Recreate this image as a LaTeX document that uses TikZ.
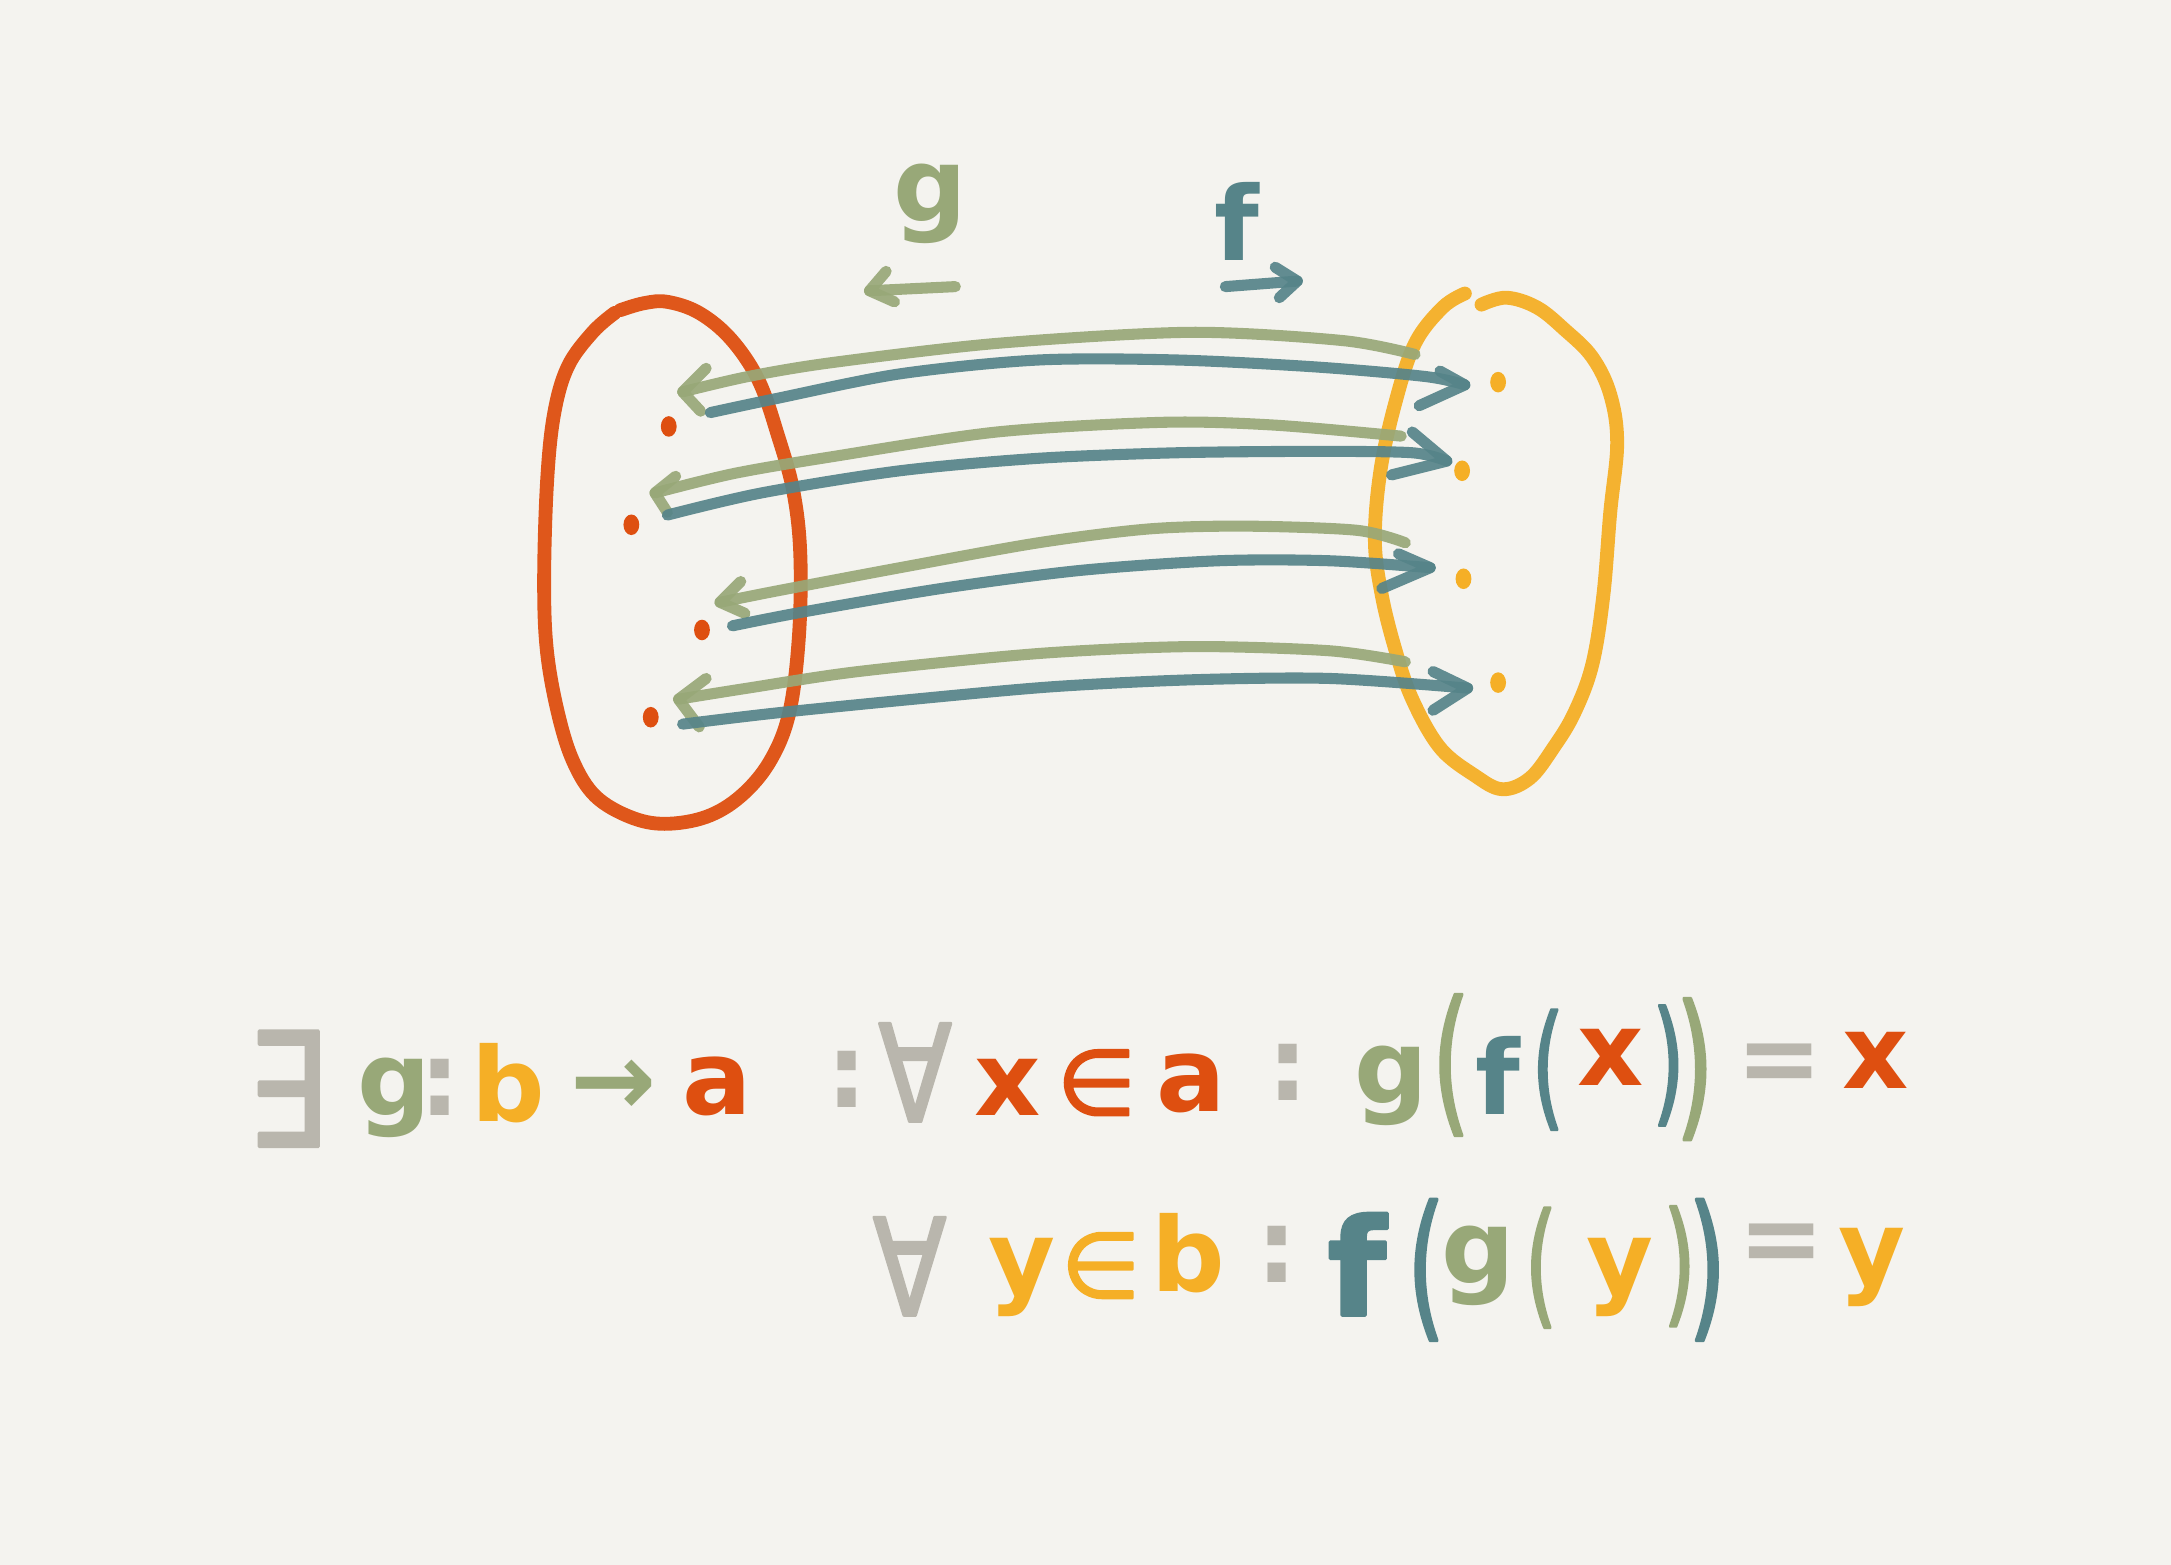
\documentclass[tikz,border=0pt]{standalone}
\usepackage{fontspec}
\usepackage{graphicx}
\setmainfont{DejaVu Sans}
\newfontfamily\hf[FakeBold=2.2]{DejaVu Sans}
\usetikzlibrary{shapes.geometric}
\definecolor{bg}{HTML}{F4F3EF}
\definecolor{cred}{HTML}{DE4F10}
\definecolor{cyel}{HTML}{F5AF26}
\definecolor{cgrn}{HTML}{98A878}
\definecolor{cblu}{HTML}{568489}
\definecolor{cgry}{HTML}{B9B6AD}
\newcommand{\sq}[1]{\scalebox{0.62}[1]{#1}}
\begin{document}
\begin{tikzpicture}[x=0.35pt,y=-0.35pt,line cap=round,line join=round,
  stroke/.style={line width=2.8pt,draw opacity=0.92},
  loopline/.style={line width=3.5pt,draw opacity=0.95},
  blob/.style={shape=ellipse,inner sep=0pt,minimum width=4pt,minimum height=5.2pt,draw=none},
  tx/.style={inner sep=0pt,anchor=base,font=\bfseries\fontsize{26}{30}\selectfont},
  sym/.style={inner sep=0pt,anchor=base,font=\hf\fontsize{23}{27}\selectfont},
  big/.style={inner sep=0pt,anchor=base,font=\hf\fontsize{40}{44}\selectfont},
  mid/.style={inner sep=0pt,anchor=base,font=\hf\fontsize{34}{38}\selectfont}]
\fill[bg] (0,0) rectangle (1568,1130);
\useasboundingbox (0,0) rectangle (1568,1130);

% set a (red loop)
\draw[loopline,cred] plot[smooth,tension=0.6] coordinates {(448,224) (465,219) (482,218) (505,226) (528,245) (548,275) (562,315) (573,355) (578,400) (577,460) (570,515) (556,550) (535,575) (510,590) (480,595) (455,590) (430,575) (414,550) (403,515) (395,470) (393,420) (395,350) (400,300) (410,265) (428,240) (444,226)};
% set b (yellow loop)
\draw[loopline,cyel] plot[smooth,tension=0.6] coordinates {(1058,212) (1042,222) (1022,248) (1008,290) (997,340) (993,390) (998,430) (1008,470) (1020,505) (1040,540) (1065,560) (1085,570) (1105,562) (1122,540) (1137,515) (1150,480) (1158,430) (1163,370) (1168,320) (1163,285) (1150,258) (1130,238) (1110,222) (1088,215) (1070,220)};

% elements
\node[blob,fill=cred] (ra1) at (483,308) {};
\node[blob,fill=cred] (ra2) at (456,379) {};
\node[blob,fill=cred] (ra3) at (507,455) {};
\node[blob,fill=cred] (ra4) at (470,518) {};
\node[blob,fill=cyel] (yb1) at (1082,276) {};
\node[blob,fill=cyel] (yb2) at (1056,340) {};
\node[blob,fill=cyel] (yb3) at (1057,418) {};
\node[blob,fill=cyel] (yb4) at (1082,493) {};

% g arrows (green, right to left)
\coordinate (gs1) at (1022,256); \coordinate (gt1) at (493,283);
\coordinate (gs2) at (1012,315); \coordinate (gt2) at (473,356);
\coordinate (gs3) at (1015,392); \coordinate (gt3) at (520,435);
\coordinate (gs4) at (1015,478); \coordinate (gt4) at (490,505);
\draw[stroke,cgrn] plot[smooth] coordinates {(gs1) (970,246) (860,240) (720,248) (600,262) (540,272) (gt1)};
\draw[stroke,cgrn] (gt1) +(17,-17) -- (gt1) -- +(13,14);
\draw[stroke,cgrn] plot[smooth] coordinates {(gs2) (920,307) (840,305) (720,312) (600,330) (530,342) (gt2)};
\draw[stroke,cgrn] (gt2) +(15,-12) -- (gt2) -- +(9,14);
\draw[stroke,cgrn] plot[smooth] coordinates {(gs3) (980,383) (900,380) (830,382) (750,392) (650,410) (560,427) (gt3)};
\draw[stroke,cgrn] (gt3) +(15,-15) -- (gt3) -- +(18,8);
\draw[stroke,cgrn] plot[smooth] coordinates {(gs4) (960,470) (860,467) (750,472) (620,485) (540,497) (gt4)};
\draw[stroke,cgrn] (gt4) +(20,-15) -- (gt4) -- +(15,20);

% f arrows (blue, left to right)
\coordinate (fs1) at (513,298); \coordinate (ft1) at (1058,278);
\coordinate (fs2) at (482,372); \coordinate (ft2) at (1045,333);
\coordinate (fs3) at (529,452); \coordinate (ft3) at (1033,410);
\coordinate (fs4) at (493,523); \coordinate (ft4) at (1060,497);
\draw[stroke,cblu] plot[smooth] coordinates {(fs1) (560,288) (650,270) (750,260) (850,260) (950,265) (1030,272) (ft1)};
\draw[stroke,cblu] (ft1) +(-18,-10) -- (ft1) -- +(-33,15);
\draw[stroke,cblu] plot[smooth] coordinates {(fs2) (550,356) (650,340) (750,331) (850,327) (950,326) (1020,327) (ft2)};
\draw[stroke,cblu] (ft2) +(-25,-21) -- (ft2) -- +(-40,10);
\draw[stroke,cblu] plot[smooth] coordinates {(fs3) (580,442) (680,425) (780,412) (880,405) (960,405) (ft3)};
\draw[stroke,cblu] (ft3) +(-23,-10) -- (ft3) -- +(-35,15);
\draw[stroke,cblu] plot[smooth] coordinates {(fs4) (560,515) (660,505) (760,496) (860,491) (960,490) (ft4)};
\draw[stroke,cblu] (ft4) +(-25,-12) -- (ft4) -- +(-25,16);

% labels
\node[tx,text=cgrn] (lg) at (672,160) {g};
\coordinate (lga) at (690,207); \coordinate (lgb) at (628,210);
\draw[stroke,cgrn] (lga) -- (lgb);
\draw[stroke,cgrn] (lgb) +(12,-14) -- (lgb) -- +(18,8);
\node[tx,text=cblu] (lf) at (893,188) {f};
\coordinate (lfa) at (885,207); \coordinate (lfb) at (937,203);
\draw[stroke,cblu] (lfa) -- (lfb);
\draw[stroke,cblu] (lfb) +(-16,-10) -- (lfb) -- +(-13,12);

% formula line 1
\node[big,text=cgry] (e1) at (207,828) {\scalebox{0.8}[1]{∃}};
\node[tx,text=cgrn] (g1) at (285,806) {g};
\node[tx,text=cgry] (c1) at (318,806) {:};
\node[tx,text=cyel] (b1) at (367,810) {b};
\node[tx,text=cgrn] (ar1) at (443,806) {→};
\node[tx,text=cred] (a1) at (518,805) {a};
\node[tx,text=cgry] (c2) at (612,800) {:};
\node[mid,text=cgry] (fa1) at (661,810) {\scalebox{0.8}[1]{∀}};
\node[tx,text=cred] (x1) at (728,806) {x};
\node[sym,text=cred] (in1) at (792,805) {∈};
\node[tx,text=cred] (a2) at (860,803) {a};
\node[tx,text=cgry] (c3) at (930,795) {:};
\node[tx,text=cgrn] (g2) at (1005,797) {g};
\node[big,text=cgrn] (p1) at (1048,805) {\sq{(}};
\node[tx,text=cblu] (f1) at (1082,805) {f};
\node[mid,text=cblu] (p2) at (1118,803) {\sq{(}};
\node[tx,text=cred] (x2) at (1163,784) {x};
\node[mid,text=cblu] (p3) at (1205,800) {\sq{)}};
\node[big,text=cgrn] (p4) at (1224,808) {\sq{)}};
\node[tx,text=cgry] (eq1) at (1285,790) {=};
\node[tx,text=cred] (x3) at (1355,786) {x};

% formula line 2
\node[mid,text=cgry] (fa2) at (657,950) {\scalebox{0.8}[1]{∀}};
\node[tx,text=cyel] (y1) at (738,935) {y};
\node[sym,text=cyel] (in2) at (795,937) {∈};
\node[tx,text=cyel] (b2) at (858,933) {b};
\node[tx,text=cgry] (c4) at (922,926) {:};
\node[mid,text=cblu] (f2) at (980,950) {\bfseries f};
\node[big,text=cblu] (p5) at (1030,953) {\sq{(}};
\node[tx,text=cgrn] (g3) at (1068,927) {g};
\node[mid,text=cgrn] (p6) at (1113,946) {\sq{(}};
\node[tx,text=cyel] (y2) at (1170,935) {y};
\node[mid,text=cgrn] (p7) at (1213,945) {\sq{)}};
\node[big,text=cblu] (p8) at (1233,953) {\sq{)}};
\node[tx,text=cgry] (eq2) at (1287,920) {=};
\node[tx,text=cyel] (y3) at (1352,928) {y};
\end{tikzpicture}
\end{document}
